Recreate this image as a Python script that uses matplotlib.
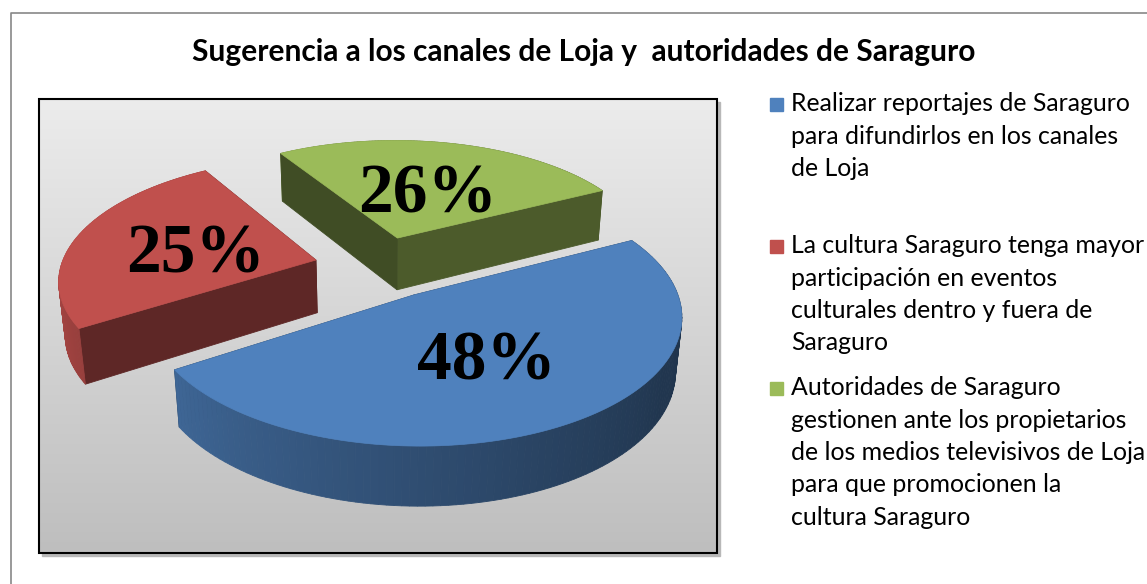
import matplotlib.pyplot as plt
import numpy as np
from matplotlib.patches import Polygon, Rectangle
from matplotlib.colors import to_rgb, LinearSegmentedColormap

# Data
title = "Sugerencia a los canales de Loja y  autoridades de Saraguro"
labels = ["Realizar reportajes de Saraguro\npara difundirlos en los canales\nde Loja",
          "La cultura Saraguro tenga mayor\nparticipación en eventos\nculturales dentro y fuera de\nSaraguro",
          "Autoridades de Saraguro\ngestionen ante los propietarios\nde los medios televisivos de Loja\npara que promocionen la\ncultura Saraguro"]
values = np.array([48, 25, 26])
pct_labels = ["48%", "25%", "26%"]
colors = ["#4f81bd", "#c0504d", "#9bbb59"]

W, H = 1147, 584
fig = plt.figure(figsize=(W / 100, H / 100), dpi=100)
ax = fig.add_axes([0, 0, 1, 1])

# outer chart frame (cut at right and bottom)
ax.plot([10.5, 10.5, W + 5], [H + 5, 12.5, 12.5], color='#878787', lw=1.2, zorder=1)

# plot area with gray gradient
px0, px1, py0, py1 = 39, 717, 99, 553
ax.add_patch(Rectangle((px0 + 3, py0 + 3), px1 - px0, py1 - py0, color='#b8b8b8', zorder=1))
grad = np.linspace(0, 1, 256)[:, None]
bg = LinearSegmentedColormap.from_list('bg', ['#ececec', '#bebebe'])
ax.imshow(grad, cmap=bg, extent=(px0, px1, py1, py0), aspect='auto', zorder=2)
ax.add_patch(Rectangle((px0, py0), px1 - px0, py1 - py0, fill=False, ec='black', lw=1.5, zorder=3))

# 3D pie with perspective
el = np.radians(30)
Dc = 1500.0
cx, cy = 380, 320
R, h, expl = 250.0, 60.0, 65.0
start = 27.0
cam = np.array([0, -Dc * np.cos(el), Dc * np.sin(el)])


def proj(u, v, z):
    d = Dc + v * np.cos(el) - z * np.sin(el)
    s = Dc / d
    up = v * np.sin(el) + z * np.cos(el)
    return cx + u * s, cy - up * s


def facing(normal_ang, p):
    n = np.array([np.cos(np.radians(normal_ang)), np.sin(np.radians(normal_ang)), 0])
    return np.dot(n, cam - p) > 0


def wall_f(ang):
    a = (ang + 180) % 360 - 180
    return np.interp(a, [-180, -150, -120, -90, -60, -30, 0, 180],
                     [0.9, 0.8, 0.7, 0.6, 0.5, 0.42, 0.4, 0.9])


def side_f(ang):
    a = (ang + 180) % 360 - 180
    return np.interp(a, [-180, -150, -60, 0, 180], [0.4, 0.41, 0.49, 0.5, 0.4])


def shade(c, f):
    return tuple(np.clip(np.array(to_rgb(c)) * f, 0, 1))


spans = 360 * values / values.sum()
ends = start - np.concatenate([[0], np.cumsum(spans)[:-1]])
slices = []
for i in range(len(values)):
    t1 = ends[i]
    t2 = t1 - spans[i]
    mid = (t1 + t2) / 2
    ou, ov = expl * np.cos(np.radians(mid)), expl * np.sin(np.radians(mid))
    slices.append((ov, i, t1, t2, mid, ou))

# far slices first
for ov, i, t1, t2, mid, ou in sorted(slices, reverse=True):
    col = colors[i]
    back, front = [], []
    ang = np.linspace(t2, t1, 120)
    # outer wall
    for a, b in zip(ang[:-1], ang[1:]):
        m = (a + b) / 2
        pts = [proj(ou + R * np.cos(np.radians(q)), ov + R * np.sin(np.radians(q)), z)
               for q, z in [(a, 0), (b, 0), (b, h), (a, h)]]
        p = np.array([ou + R * np.cos(np.radians(m)), ov + R * np.sin(np.radians(m)), h / 2])
        (front if facing(m, p) else back).append((pts, shade(col, wall_f(m))))
    # radial sides
    for t, nrm in [(t1, t1 + 90), (t2, t2 - 90)]:
        eu, ev = ou + R * np.cos(np.radians(t)), ov + R * np.sin(np.radians(t))
        pts = [proj(ou, ov, 0), proj(eu, ev, 0), proj(eu, ev, h), proj(ou, ov, h)]
        p = np.array([(ou + eu) / 2, (ov + ev) / 2, h / 2])
        (front if facing(nrm, p) else back).insert(0, (pts, shade(col, side_f(nrm))))
    for pts, c in back + front:
        ax.add_patch(Polygon(pts, closed=True, fc=c, ec=c, lw=0.6, zorder=4))
    top = [proj(ou, ov, h)] + [proj(ou + R * np.cos(np.radians(q)), ov + R * np.sin(np.radians(q)), h)
                               for q in ang]
    ax.add_patch(Polygon(top, closed=True, fc=col, ec=col, lw=0.5, zorder=4))
    lx, ly = proj(ou + 0.5 * R * np.cos(np.radians(mid)), ov + 0.5 * R * np.sin(np.radians(mid)), h)
    ax.text(lx, ly + 8, pct_labels[i], ha='center', va='center', fontsize=50,
            fontweight='bold', family='Liberation Serif', color='black', zorder=5)

# title
ax.text(584, 52, title, ha='center', va='center', fontsize=21.5, fontweight='bold',
        family='Lato', color='black', zorder=5)

# legend
leg_y = [104, 246, 388]
for lab, col, y in zip(labels, colors, leg_y):
    ax.add_patch(Rectangle((770, y - 6.5), 13, 13, color=col, zorder=5))
    ax.text(791, y - 12, lab, ha='left', va='top', fontsize=17.9, family='Lato',
            color='black', linespacing=1.5, zorder=5)

ax.set_xlim(0, W)
ax.set_ylim(H, 0)
ax.axis('off')

fig.savefig('out.png', dpi=100, facecolor='white')
